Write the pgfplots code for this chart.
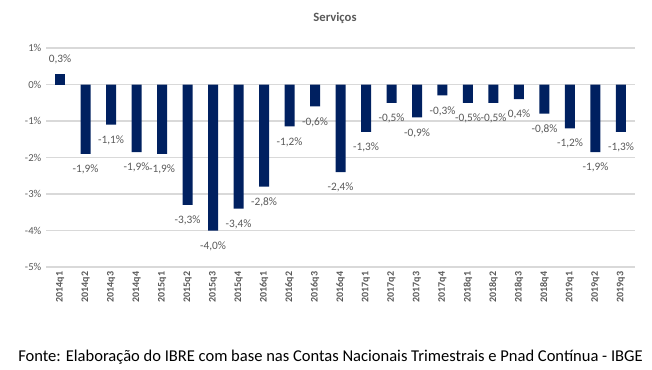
\documentclass[border=0pt]{standalone}
\usepackage{pgfplots}
\pgfplotsset{compat=1.18}
\usepackage{pgfplotstable}
\usepackage{fontspec}
\setmainfont{Carlito}
\definecolor{barblue}{HTML}{002060}
\definecolor{txtgray}{HTML}{595959}
\definecolor{gridgray}{HTML}{D9D9D9}
\pgfplotstableread{
x y lab
0 0.3 0,3\%
}\postable
\pgfplotstableread{
x y lab
1 -1.9 -1,9\%
2 -1.1 -1,1\%
3 -1.85 -1,9\%
4 -1.9 -1,9\%
5 -3.3 -3,3\%
6 -4.0 -4,0\%
7 -3.4 -3,4\%
8 -2.8 -2,8\%
9 -1.15 -1,2\%
10 -0.6 -0,6\%
11 -2.4 -2,4\%
12 -1.3 -1,3\%
13 -0.5 -0,5\%
14 -0.9 -0,9\%
15 -0.3 -0,3\%
16 -0.5 -0,5\%
17 -0.5 -0,5\%
18 -0.4 0,4\%
19 -0.8 -0,8\%
20 -1.2 -1,2\%
21 -1.85 -1,9\%
22 -1.3 -1,3\%
}\negtable
\begin{document}
\begin{tikzpicture}
\useasboundingbox (0,0) rectangle (489pt,-276.75pt);
\begin{axis}[
  at={(34.5pt,-200.25pt)}, anchor=south west,
  scale only axis, width=441.75pt, height=164.25pt,
  xmin=-0.55, xmax=22.55, ymin=-5, ymax=1,
  axis line style={draw=none},
  ytick={-5,-4,-3,-2,-1,0,1},
  yticklabels={-5\%,-4\%,-3\%,-2\%,-1\%,0\%,1\%},
  ymajorgrids, grid style={gridgray, line width=0.9pt},
  major tick length=0pt,
  xtick={0,...,22},
  xticklabels={2014q1,2014q2,2014q3,2014q4,2015q1,2015q2,2015q3,2015q4,2016q1,2016q2,2016q3,2016q4,2017q1,2017q2,2017q3,2017q4,2018q1,2018q2,2018q3,2018q4,2019q1,2019q2,2019q3},
  xticklabel style={rotate=90, anchor=east, font=\fontsize{7.5}{9}\selectfont\bfseries, text=txtgray},
  yticklabel style={font=\fontsize{8}{9}\selectfont, text=txtgray},
  xticklabel pos=lower,
  ybar, bar width=7.5pt, bar shift=0pt,
  nodes near coords={\pgfplotspointmeta},
  point meta=explicit symbolic,
  every node near coord/.append style={font=\fontsize{8.5}{9}\selectfont, text=txtgray, inner sep=0pt},
]
\addplot[fill=barblue, draw=none, every node near coord/.append style={anchor=south, yshift=7pt}] table[x=x, y=y, meta=lab] {\postable};
\addplot[fill=barblue, draw=none, every node near coord/.append style={anchor=north, yshift=-8pt}] table[x=x, y=y, meta=lab] {\negtable};
\end{axis}
\node[anchor=center, font=\fontsize{9.5}{11}\selectfont\bfseries, text=txtgray] at (251.25pt,-13.5pt) {Serviços};
\node[anchor=west, font=\fontsize{12.4}{14}\selectfont, inner sep=0pt] at (13.5pt,-267.75pt) {Fonte: Elaboração do IBRE com base nas Contas Nacionais Trimestrais e Pnad Contínua - IBGE};
\end{tikzpicture}
\end{document}
